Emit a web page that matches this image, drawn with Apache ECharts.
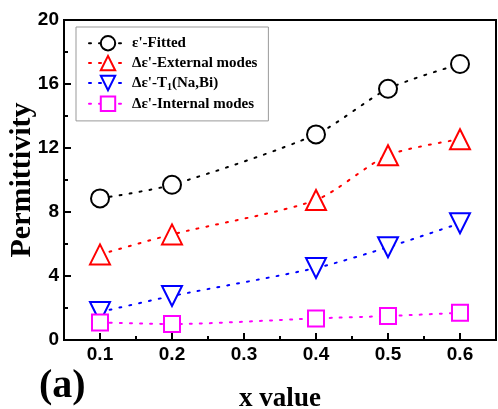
<!DOCTYPE html>
<html><head><meta charset="utf-8">
<script src="https://cdn.jsdelivr.net/npm/echarts@6/dist/echarts.min.js"></script>
<style>html,body{margin:0;padding:0;background:#fff}#c{width:498px;height:409px}</style>
</head><body><div id="c"></div>
<script>
const xValues = [0.1, 0.2, 0.4, 0.5, 0.6];
const fitted = [8.85, 9.7, 12.85, 15.7, 17.25];
const external = [5.35, 6.6, 8.75, 11.55, 12.55];
const t1NaBi = [1.75, 2.75, 4.5, 5.8, 7.3];
const internal = [1.1, 1.0, 1.35, 1.5, 1.7];
const xMajorTicks = [0.1, 0.2, 0.3, 0.4, 0.5, 0.6];
const xMinorTicks = [0.15, 0.25, 0.35, 0.45, 0.55];
const seriesNames = ["ε'-Fitted", "Δε'-External modes", "Δε'-T{sub|1}(Na,Bi)", "Δε'-Internal modes"];

const chart = echarts.init(document.getElementById('c'));
function pairs(ys){ return xValues.map((x,i)=>[x, ys[i]]); }
function mk(name, ys, color, symbol, rotate, size){
  return {
    name: name, type: 'line', data: pairs(ys), smooth: 0.25,
    symbol: symbol, symbolSize: size, symbolRotate: rotate,
    showAllSymbol: true,
    lineStyle: {color: color, width: 2, type: [2, 8], cap: 'round'},
    itemStyle: {color: '#fff', borderColor: color, borderWidth: 2},
    emphasis: {disabled: true}
  };
}
const serif = '"Liberation Serif", "Times New Roman", serif';
const sans = '"Liberation Sans", Arial, sans-serif';
chart.setOption({
  animation: false,
  grid: {left: 64, right: 2, top: 20, bottom: 69, show: true, borderColor: '#000', borderWidth: 2, containLabel: false, outerBoundsMode: 'none'},
  legend: {
    orient: 'vertical', left: 76, top: 27,
    itemWidth: 38, itemHeight: 18, itemGap: 3.5,
    padding: [8, 11, 9, 12],
    borderColor: '#999', borderWidth: 1,
    textStyle: {fontFamily: serif, fontWeight: 'bold', fontSize: 15, color: '#000',
      rich: {sub: {fontFamily: serif, fontWeight: 'bold', fontSize: 10, verticalAlign: 'bottom', padding: [8,0,0,0]}}},
    data: seriesNames
  },
  xAxis: [{
    type: 'value', min: 0.05, max: 0.65,
    axisLine: {show: true, lineStyle: {color: '#000', width: 2}},
    axisTick: {show: true, inside: true, length: 7, lineStyle: {color: '#000', width: 2}, customValues: xMajorTicks},
    axisLabel: {customValues: xMajorTicks, formatter: v => v.toFixed(1), fontFamily: sans, fontWeight: 'bold', fontSize: 19, color: '#000', margin: 5},
    splitLine: {show: false},
    name: 'x value', nameLocation: 'middle', nameGap: 46,
    nameTextStyle: {fontFamily: serif, fontWeight: 'bold', fontSize: 27, color: '#000'}
  }, {
    type: 'value', min: 0.05, max: 0.65, position: 'bottom',
    axisLine: {show: false},
    axisTick: {show: true, inside: true, length: 4, lineStyle: {color: '#000', width: 2}, customValues: xMinorTicks},
    axisLabel: {show: false},
    splitLine: {show: false}
  }],
  yAxis: {
    type: 'value', min: 0, max: 20, interval: 4,
    axisLine: {show: true, lineStyle: {color: '#000', width: 2}},
    axisTick: {show: true, inside: true, length: 7, lineStyle: {color: '#000', width: 2}},
    minorTick: {show: true, splitNumber: 2, length: 4, lineStyle: {color: '#000', width: 2}},
    axisLabel: {fontFamily: sans, fontWeight: 'bold', fontSize: 19, color: '#000', margin: 5},
    splitLine: {show: false},
    name: 'Permittivity', nameLocation: 'middle', nameGap: 27, nameMoveOverlap: false,
    nameTextStyle: {fontFamily: serif, fontWeight: 'bold', fontSize: 30, color: '#000'}
  },
  graphic: [{type: 'text', left: 39, top: 367, style: {text: '(a)', font: 'bold 40px ' + serif, fill: '#000'}}],
  series: [
    mk(seriesNames[0], fitted, '#000000', 'circle', 0, 18),
    mk(seriesNames[1], external, '#ff0000', 'triangle', 0, 20),
    mk(seriesNames[2], t1NaBi, '#0000ff', 'triangle', 180, 20),
    mk(seriesNames[3], internal, '#ff00ff', 'rect', 0, 16)
  ]
});
</script></body></html>
